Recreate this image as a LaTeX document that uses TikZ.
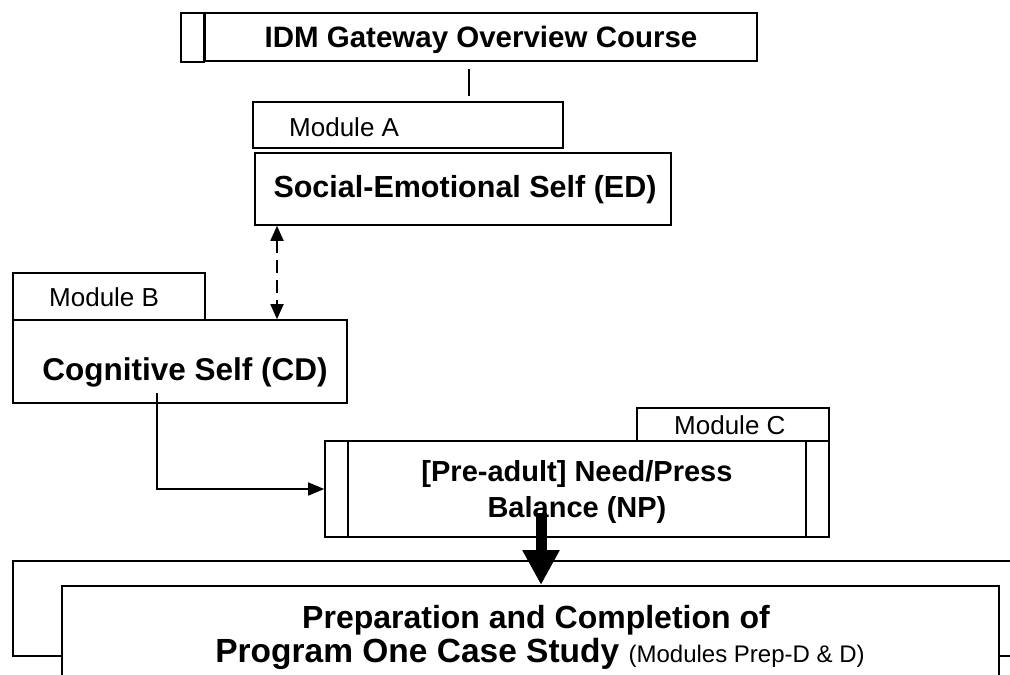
\documentclass[tikz,border=0pt]{standalone}
\usepackage{fontspec}
\setmainfont{Liberation Sans}
\usetikzlibrary{arrows.meta,calc}

\tikzset{
  box/.style={draw, line width=1.6pt, fill=white, inner sep=0pt},
  tab/.style={draw, line width=1.3pt, fill=white},
  txt/.style={inner sep=0pt, align=center},
  modlabel/.style={font=\fontsize{26}{28}\selectfont, anchor=west, inner sep=0pt},
  link/.style={line width=1.6pt},
  dashlink/.style={line width=1.8pt, dash pattern=on 13pt off 7pt,
    {Triangle[length=15pt,width=13pt]}-{Triangle[length=15pt,width=13pt]}},
  flow/.style={line width=1.6pt, -{Triangle[length=16pt,width=13pt]}},
  bigarrow/.style={line width=11pt, -{Triangle[length=35pt,width=35pt]}},
}

\begin{document}
\begin{tikzpicture}[x=1pt, y=-1pt]
\useasboundingbox (0,0) rectangle (1010,675);
\clip (0,0) rectangle (1010,675);

% Gateway course header with its side strip
\node[box, minimum width=552pt, minimum height=48pt] (title) at (481,37) {};
\draw[line width=1.6pt] (181,13) rectangle (title.south west);
\node[txt, font=\fontsize{29.5}{32}\selectfont\bfseries] (titletext) at (481,40) {IDM Gateway Overview Course};

% Module A
\draw[tab] (253,102) rectangle (563,148);
\node[modlabel] (modA) at (289,127) {Module A};
\node[box, minimum width=416pt, minimum height=72pt] (ed) at (463,189) {};
\node[txt, font=\fontsize{30.5}{34}\selectfont\bfseries] (edtext) at (465,190) {Social-Emotional Self (ED)};

% header to module A stub
\coordinate (stubtop) at (469,69);
\coordinate (stubbot) at (469,96);
\draw[link] (stubtop) -- (stubbot);

% Module B
\draw[tab] (13,273) rectangle (205,320);
\node[modlabel] (modB) at (49,297) {Module B};
\node[box, minimum width=334pt, minimum height=83pt] (cd) at (180,361.5) {};
\node[txt, font=\fontsize{31.5}{34}\selectfont\bfseries] (cdtext) at (185,372) {Cognitive Self (CD)};

% ED <-> CD
\draw[dashlink] (ed.south -| 277,0) -- (cd.north -| 277,0);

% Module C
\draw[tab] (637,408) rectangle (829,441);
\node[modlabel] (modC) at (674,425) {Module C};
\node[box, minimum width=504pt, minimum height=96pt] (np) at (577,489) {};
\draw[line width=1.6pt] ([xshift=24pt]np.north west) -- ([xshift=24pt]np.south west);
\draw[line width=1.6pt] ([xshift=-24pt]np.north east) -- ([xshift=-24pt]np.south east);
\node[txt, font=\fontsize{29}{36}\selectfont\bfseries] (nptext) at (577,492) {[Pre-adult] Need/Press\\Balance (NP)};

% CD -> NP
\coordinate (cdout) at (157,393);
\draw[flow] (cdout) |- (np.west);

% Case study frame
\draw[line width=1.6pt] (13,561) rectangle (1040,656);
\node[box, minimum width=937pt, minimum height=120pt, anchor=north west] (prep) at (61,585) {};
\node[txt, font=\fontsize{32}{33}\selectfont\bfseries] (preptext) at (536,620)
  {Preparation and Completion of};
\node[txt, font=\fontsize{33.5}{34}\selectfont\bfseries] (prepsub) at (540,654)
  {Program One Case Study {\mdseries\fontsize{24}{28}\selectfont (Modules Prep-D \& D)}};

% NP -> case study
\coordinate (npout) at (541,513);
\draw[bigarrow] (npout) -- (npout |- prep.north);
\end{tikzpicture}
\end{document}
